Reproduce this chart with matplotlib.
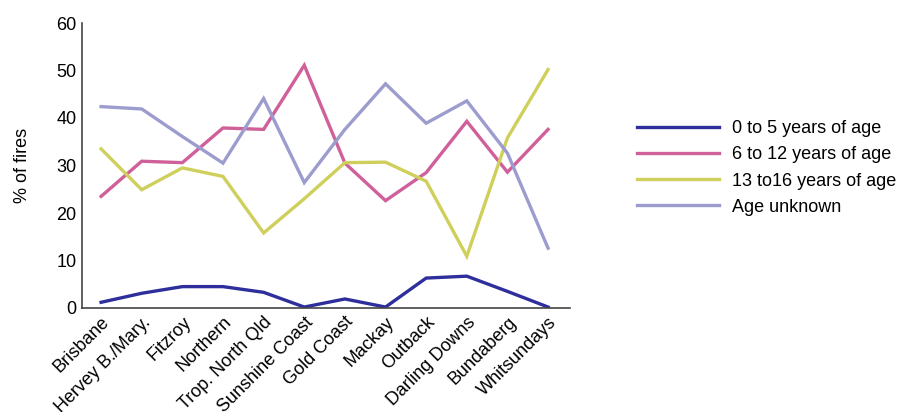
import matplotlib
matplotlib.use("Agg")
import matplotlib.pyplot as plt

regions = ["Brisbane", "Hervey B./Mary.", "Fitzroy", "Northern", "Trop. North Qld",
           "Sunshine Coast", "Gold Coast", "Mackay", "Outback", "Darling Downs",
           "Bundaberg", "Whitsundays"]
age_0_5 = [1.2, 3.1, 4.5, 4.5, 3.3, 0.2, 1.9, 0.2, 6.3, 6.7, 3.5, 0.2]
age_6_12 = [23.5, 30.9, 30.6, 37.9, 37.6, 51.1, 30.5, 22.6, 28.5, 39.3, 28.6, 37.6]
age_13_16 = [33.5, 24.9, 29.5, 27.7, 15.8, 23.0, 30.6, 30.7, 26.7, 10.9, 35.8, 50.2]
age_unknown = [42.4, 41.9, 36.1, 30.5, 44.1, 26.4, 37.6, 47.2, 38.9, 43.6, 32.6, 12.6]
series_labels = ["0 to 5 years of age", "6 to 12 years of age",
                 "13 to16 years of age", "Age unknown"]
colors = ["#2e2e9c", "#d0609a", "#cfcf5c", "#9c9ccf"]
yticks = [0, 10, 20, 30, 40, 50, 60]

plt.rcParams['font.family'] = ['Liberation Sans', 'DejaVu Sans']
FS = 13

fig = plt.figure(figsize=(9.02, 4.12), dpi=100)
ax = fig.add_axes([82/902, 1-308/412, (570-82)/902, (308-23)/412])

x = list(range(len(regions)))
handles = []
for vals, c, lab in zip([age_0_5, age_6_12, age_13_16, age_unknown], colors, series_labels):
    h, = ax.plot(x, vals, color=c, lw=2.4, label=lab, solid_joinstyle='miter')
    handles.append(h)

ax.set_ylim(0, 60)
ax.set_xlim(-0.47, 11.54)
ax.set_yticks(yticks)
ax.set_yticklabels([str(t) for t in yticks], fontsize=FS)
ax.set_xticks(x)
ax.set_xticklabels(regions, rotation=45, ha='right', rotation_mode='anchor', fontsize=FS)
ax.tick_params(axis='both', length=0, pad=4)
for s in ['top', 'right']:
    ax.spines[s].set_visible(False)
for s in ['left', 'bottom']:
    ax.spines[s].set_color('#444444')
    ax.spines[s].set_linewidth(1.2)
ax.set_ylabel("% of fires", fontsize=FS, labelpad=18)

fig.legend(handles=handles, labels=series_labels, loc='center left',
           bbox_to_anchor=(621/902, 1-168/412), frameon=False, fontsize=FS,
           handlelength=4.55, handletextpad=0.72, labelspacing=0.5)

fig.savefig("out.png", dpi=100)
